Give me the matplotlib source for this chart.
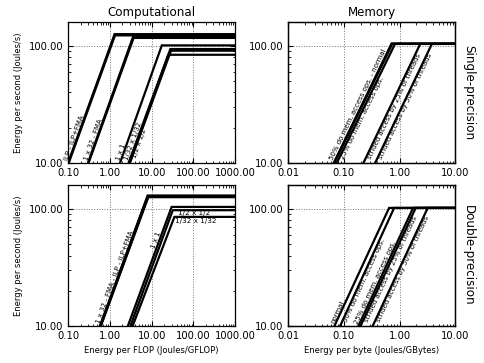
import math
import matplotlib
matplotlib.use("Agg")
import matplotlib.pyplot as plt
from matplotlib.ticker import FormatStrFormatter, NullFormatter, LogLocator

# Computational, single precision: each line goes (start, 10) -> (knee, peak) -> flat
comp_sp_start = [0.100, 0.104, 0.30, 0.31, 1.75, 2.80, 3.00, 3.00]
comp_sp_knee  = [1.30, 1.33, 3.60, 3.70, 17.5, 28.0, 29.0, 25.0]
comp_sp_peak  = [126, 123, 120, 117, 101, 94, 91, 84]
comp_sp_text  = ["ILP - ILP+FMA", "1 x 32 - FMA", "1 x 1", "1/32 x 1/32", "1/2 x 1/2"]
comp_sp_lines = [0, 2, 4, 5, 7]

# Computational, double precision
comp_dp_start = [0.58, 0.59, 0.60, 0.61, 2.70, 3.10, 3.50]
comp_dp_knee  = [8.0, 8.1, 8.2, 8.3, 30.0, 32.0, 35.0]
comp_dp_peak  = [130, 129, 127, 126, 104, 97.5, 85.5]
comp_dp_text  = ["1 x 32 - FMA - ILP - ILP+FMA", "1 x 1"]
comp_dp_lines = [0, 4]
comp_dp_flat_text = ["1/2 x 1/2", "1/32 x 1/32"]

# Memory, single precision
mem_sp_start = [0.066, 0.068, 0.075, 0.225, 0.365]
mem_sp_knee  = [0.72, 0.74, 0.83, 2.35, 3.80]
mem_sp_peak  = [105, 104, 104, 104, 104]
mem_sp_text  = ["50% do mem. access ops. - normal", "25% do mem. access ops.",
                "strided access by 25% of threads", "strided access by 50% of threads"]
mem_sp_lines = [0, 2, 3, 4]

# Memory, double precision
mem_dp_start = [0.068, 0.086, 0.183, 0.200, 0.330]
mem_dp_knee  = [0.65, 0.80, 1.75, 1.95, 3.20]
mem_dp_peak  = [102, 102, 102, 102, 102]
mem_dp_text  = ["normal", "50% do mem. access ops.", "25% do mem. access ops.",
                "strided access by 25% of threads", "strided access by 50% of threads"]
mem_dp_lines = [0, 1, 2, 3, 4]

plt.rcParams.update({
    "font.family": "DejaVu Sans",
    "xtick.direction": "in", "ytick.direction": "in",
    "xtick.top": True, "ytick.right": True,
    "xtick.major.size": 3.5, "ytick.major.size": 3.5,
    "xtick.minor.size": 1.8, "ytick.minor.size": 1.8,
    "xtick.labelsize": 7.2, "ytick.labelsize": 7.2,
    "axes.linewidth": 0.9,
})

fig = plt.figure(figsize=(4.85, 3.63), dpi=100)
L, R, W = 0.1402, 0.5938, 0.345
T, B, H = 0.5510, 0.1019, 0.3884
ax_cs = fig.add_axes([L, T, W, H])
ax_ms = fig.add_axes([R, T, W, H])
ax_cd = fig.add_axes([L, B, W, H])
ax_md = fig.add_axes([R, B, W, H])


def setup(ax, xlim):
    ax.set_xscale("log"); ax.set_yscale("log")
    ax.set_xlim(*xlim); ax.set_ylim(10, 160)
    ax.xaxis.set_major_locator(LogLocator(10))
    ax.yaxis.set_major_locator(LogLocator(10))
    ax.xaxis.set_major_formatter(FormatStrFormatter("%.2f"))
    ax.yaxis.set_major_formatter(FormatStrFormatter("%.2f"))
    ax.xaxis.set_minor_formatter(NullFormatter())
    ax.yaxis.set_minor_formatter(NullFormatter())
    ax.grid(True, which="major", ls=":", color="0.45", lw=0.7)


def draw(ax, starts, knees, peaks, xmax):
    for s, k, p in zip(starts, knees, peaks):
        ax.plot([s, k, xmax], [10, p, p], color="black", lw=1.6, solid_joinstyle="miter")


def on_line(s, k, p, y):
    f = math.log(y / 10) / math.log(p / 10)
    return 10 ** (math.log10(s) + f * (math.log10(k) - math.log10(s)))


def label(ax, text, s, k, p, y, side):
    a = ax.transData.transform((s, 10)); b = ax.transData.transform((k, p))
    ang = math.degrees(math.atan2(b[1] - a[1], b[0] - a[0]))
    ax.text(on_line(s, k, p, y), y, text, rotation=ang, rotation_mode="anchor",
            ha="left", va=side, fontsize=5)


setup(ax_cs, (0.1, 1000)); setup(ax_cd, (0.1, 1000))
setup(ax_ms, (0.01, 10)); setup(ax_md, (0.01, 10))

draw(ax_cs, comp_sp_start, comp_sp_knee, comp_sp_peak, 1000)
draw(ax_cd, comp_dp_start, comp_dp_knee, comp_dp_peak, 1000)
draw(ax_ms, mem_sp_start, mem_sp_knee, mem_sp_peak, 10)
draw(ax_md, mem_dp_start, mem_dp_knee, mem_dp_peak, 10)

cs_sides = ["bottom", "bottom", "bottom", "bottom", "top"]
for t, i, sd in zip(comp_sp_text, comp_sp_lines, cs_sides):
    label(ax_cs, t, comp_sp_start[i], comp_sp_knee[i], comp_sp_peak[i],
          10.3 if sd == "bottom" else 11.2, sd)
label(ax_cd, comp_dp_text[0], comp_dp_start[0], comp_dp_knee[0], comp_dp_peak[0], 10.3, "bottom")
label(ax_cd, comp_dp_text[1], comp_dp_start[4], comp_dp_knee[4], comp_dp_peak[4], 45, "bottom")
ax_cd.text(42, 92, comp_dp_flat_text[0], fontsize=5.2, va="center")
ax_cd.text(37, 78.5, comp_dp_flat_text[1], fontsize=5.2, va="center")

ms_sides = ["bottom", "top", "top", "top"]
for t, i, sd in zip(mem_sp_text, mem_sp_lines, ms_sides):
    label(ax_ms, t, mem_sp_start[i], mem_sp_knee[i], mem_sp_peak[i],
          10.3 if sd == "bottom" else 11.2, sd)
md_sides = ["bottom", "top", "bottom", "top", "top"]
for t, i, sd in zip(mem_dp_text, mem_dp_lines, md_sides):
    label(ax_md, t, mem_dp_start[i], mem_dp_knee[i], mem_dp_peak[i],
          10.3 if sd == "bottom" else 11.2, sd)

ax_cs.set_title("Computational", fontsize=8.6, pad=4)
ax_ms.set_title("Memory", fontsize=8.6, pad=4)
ax_cs.set_ylabel("Energy per second (Joules/s)", fontsize=6)
ax_cd.set_ylabel("Energy per second (Joules/s)", fontsize=6)
ax_cd.set_xlabel("Energy per FLOP (Joules/GFLOP)", fontsize=6)
ax_md.set_xlabel("Energy per byte (Joules/GBytes)", fontsize=6)
for ax, t in [(ax_ms, "Single-precision"), (ax_md, "Double-precision")]:
    ax2 = ax.twinx(); ax2.set_yticks([]); ax2.set_ylabel(t, rotation=270, fontsize=8.6, labelpad=14)

fig.savefig("out.png", dpi=100)
